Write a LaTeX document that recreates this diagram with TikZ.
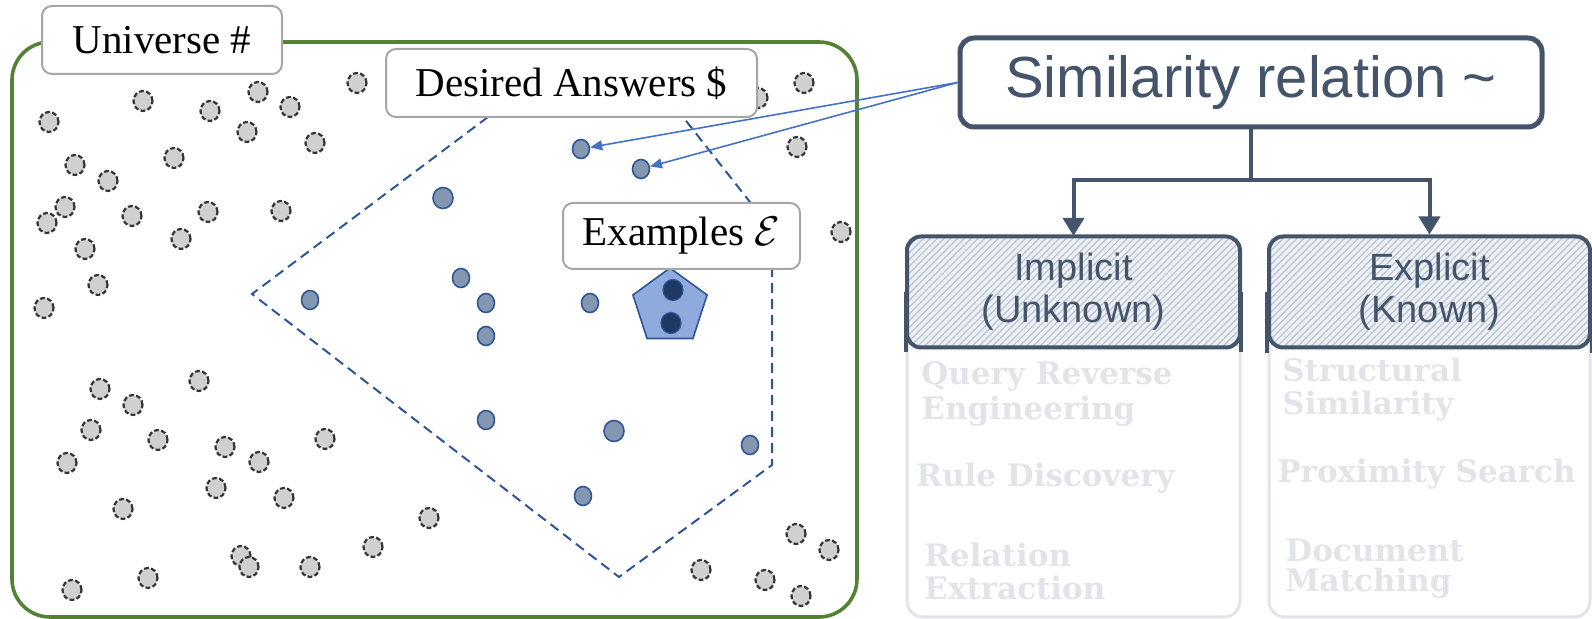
\documentclass[tikz,border=0pt]{standalone}
\usepackage{fontspec}
\setmainfont{Liberation Serif}
\newfontfamily\labelsans{Liberation Sans}
\newfontfamily\faintserif{DejaVu Serif}
\usetikzlibrary{arrows.meta,shapes.geometric,patterns.meta}

\definecolor{frameGreen}{HTML}{548235}
\definecolor{slate}{HTML}{44546A}
\definecolor{navy}{HTML}{2F5597}
\definecolor{answerFill}{HTML}{8497B0}
\definecolor{exampleFill}{HTML}{8FAADC}
\definecolor{exampleDot}{HTML}{203864}
\definecolor{elemFill}{HTML}{D0D0D0}
\definecolor{elemEdge}{HTML}{333333}
\definecolor{labelEdge}{HTML}{A6A6A6}
\definecolor{arrowBlue}{HTML}{4472C4}
\definecolor{faint}{HTML}{E2E4EA}
\definecolor{hatchBg}{HTML}{EDF0F4}
\definecolor{hatchLine}{HTML}{B9C2D0}

\begin{document}
\begin{tikzpicture}[x=0.5pt,y=-0.5pt,
  elem/.style={ellipse, draw=elemEdge, fill=elemFill, line width=1.1pt,
    dash pattern=on 2.4pt off 1.2pt, minimum width=9.5pt, minimum height=10pt, inner sep=0pt},
  ans/.style={ellipse, draw=navy, fill=answerFill, line width=0.8pt,
    minimum width=8.5pt, minimum height=9.5pt, inner sep=0pt},
  bigans/.style={ans, minimum width=10pt, minimum height=10.5pt},
  dot/.style={ellipse, draw=navy, fill=exampleDot, line width=0.6pt,
    minimum width=10pt, minimum height=10.5pt, inner sep=0pt},
  tag/.style={draw=labelEdge, fill=white, line width=1pt, rounded corners=5pt,
    font=\fontsize{20.5}{24}\selectfont, inner sep=0pt},
  hull/.style={draw=navy, line width=1pt, dash pattern=on 5pt off 3pt},
  simbox/.style={draw=slate, line width=2.5pt, rounded corners=7pt, fill=white, text=slate,
    font=\labelsans\fontsize{29}{34}\selectfont, minimum width=291pt, minimum height=44.5pt, inner sep=0pt},
  conn/.style={draw=slate, line width=2pt},
  conntip/.style={conn, -{Triangle[length=9pt,width=10.5pt]}},
  linkarrow/.style={draw=arrowBlue, line width=0.8pt, -{Triangle[length=6pt,width=5pt]}},
  column/.style={draw=faint, line width=1.5pt, rounded corners=8pt, inner sep=0pt},
  header/.style={draw=slate, line width=2pt, rounded corners=7pt, minimum height=55.5pt,
    preaction={fill=hatchBg}, pattern={Lines[angle=45,distance=2.4pt,line width=0.6pt]},
    pattern color=hatchLine, text=slate, align=center,
    font=\labelsans\fontsize{19}{21}\selectfont, inner sep=0pt},
  faintTxt/.style={text=faint, font=\faintserif\bfseries\fontsize{15.5}{18}\selectfont,
    anchor=base west, inner sep=0pt}
]
\useasboundingbox (0,0) rectangle (1592,619);

% universe frame
\node[draw=frameGreen, line width=1.8pt, rounded corners=19pt, minimum width=422.5pt,
      minimum height=287.5pt, inner sep=0pt] (universe) at (434.5,329.5) {};

% elements of the universe
\foreach \x/\y [count=\i] in {
  357/83, 49/122, 143/101, 210/111, 258/92, 290/107, 247/132, 315/143,
  174/158, 75/165, 108/181, 65/207, 47/223, 132/216, 208/212, 281/211,
  85/249, 181/239, 98/285, 44/308, 804/83, 758/98, 797/147, 841/232,
  100/389, 199/381, 133/405, 91/430, 158/440, 225/447, 325/439, 67/463,
  259/462, 216/488, 284/498, 123/509, 429/518, 373/547, 241/556, 249/567,
  310/567, 148/578, 72/590, 701/570, 796/534, 829/550, 765/580, 801/596}
  \node[elem] (e\i) at (\x,\y) {};

% region of desired answers
\coordinate (p1) at (488,117);
\coordinate (p2) at (252,294);
\coordinate (p3) at (619,577);
\coordinate (p4) at (772,465);
\coordinate (p5) at (772,230);
\coordinate (p6) at (683,117);
\draw[hull] (p1) -- (p2) -- (p3) -- (p4) -- (p5) -- (p6);

% desired answers
\node[ans]    (a1)  at (581,149) {};
\node[ans]    (a2)  at (641,169) {};
\node[bigans] (a3)  at (443,198) {};
\node[ans]    (a4)  at (461,278) {};
\node[ans]    (a5)  at (310,300) {};
\node[ans]    (a6)  at (486,303) {};
\node[ans]    (a7)  at (590,303) {};
\node[ans]    (a8)  at (486,336) {};
\node[ans]    (a9)  at (486,420) {};
\node[bigans] (a10) at (614,431) {};
\node[ans]    (a11) at (750,445) {};
\node[ans]    (a12) at (583,496) {};

% the examples
\node[regular polygon, regular polygon sides=5, minimum size=39pt, inner sep=0pt,
      draw=navy, fill=exampleFill, line width=0.8pt] (pent) at (670,307) {};
\node[dot] (d1) at (673,290) {};
\node[dot] (d2) at (671,323) {};

% labels
\node[tag, minimum width=120pt, minimum height=34pt] (ulabel) at (162,40) {Universe \#};
\node[tag, minimum width=185.5pt, minimum height=34pt] (alabel) at (571.5,83) {Desired Answers \$};
\node[tag, minimum width=118.5pt, minimum height=33pt] (xlabel) at (681.5,236) {Examples $\mathcal{E}$};

% similarity relation
\node[simbox] (sim) at (1251,82.5) {Similarity relation \textasciitilde};
\draw[linkarrow] (sim.west) -- (a1);
\draw[linkarrow] (sim.west) -- (a2);

% columns
\node[column, minimum width=166.5pt, minimum height=190pt] (impc) at (1073.5,427) {};
\node[column, minimum width=160.5pt, minimum height=190pt] (expc) at (1429.5,427) {};
\node[header, minimum width=166.5pt] (imph) at (1073.5,292) {Implicit\\(Unknown)};
\node[header, minimum width=160.5pt] (exph) at (1429.5,292) {Explicit\\(Known)};
\draw[conn] (imph.west) -- ([yshift=-2pt]imph.south west);
\draw[conn] (imph.east) -- ([yshift=-2pt]imph.south east);
\draw[conn] (exph.west) -- ([yshift=-2pt]exph.south west);
\draw[conn] (exph.east) -- ([yshift=-2pt]exph.south east);

\coordinate (fork) at (1251,180);
\draw[conn] (sim.south) -- (fork);
\draw[conntip] (fork) -| (imph.north);
\draw[conntip] (fork) -| (exph.north);

% techniques
\node[faintTxt] (t1) at (921,385) {Query Reverse};
\node[faintTxt] (t2) at (921,420) {Engineering};
\node[faintTxt] (t3) at (916,487) {Rule Discovery};
\node[faintTxt] (t4) at (924,567) {Relation};
\node[faintTxt] (t5) at (924,600) {Extraction};
\node[faintTxt] (t6) at (1282,382) {Structural};
\node[faintTxt] (t7) at (1282,415) {Similarity};
\node[faintTxt] (t8) at (1277,483) {Proximity Search};
\node[faintTxt] (t9) at (1285,562) {Document};
\node[faintTxt] (t10) at (1285,592) {Matching};
\end{tikzpicture}
\end{document}
